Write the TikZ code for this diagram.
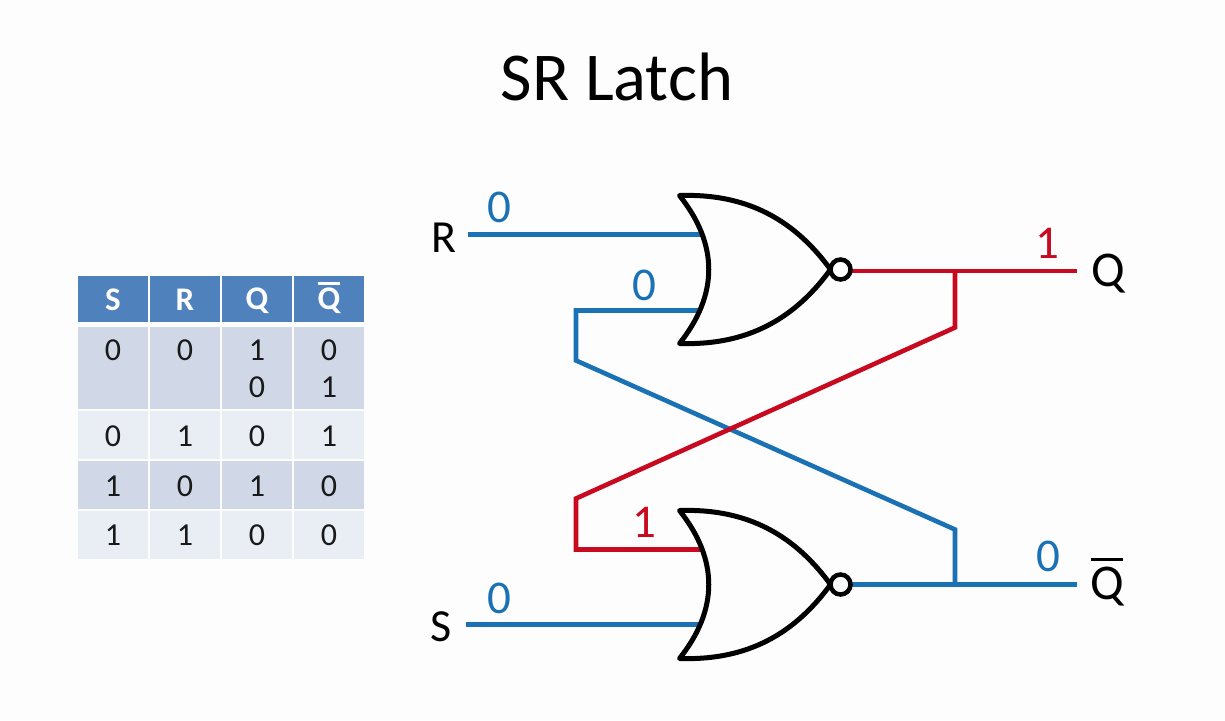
\documentclass[tikz,border=0pt]{standalone}
\usepackage{fontspec}
\setmainfont{Carlito}
\definecolor{wireblue}{HTML}{1A72B4}
\definecolor{wirered}{HTML}{C80A20}
\definecolor{headblue}{HTML}{4F81BD}
\definecolor{rowdark}{HTML}{D0D8E8}
\definecolor{rowlight}{HTML}{E9EDF4}
\definecolor{pagebg}{HTML}{FDFDFD}
\newcommand{\barred}[3]{\vbox{\hrule height #1\kern #2\hbox{#3}}}
\tikzset{
  blueW/.style={draw=wireblue,line width=4.6pt,miter limit=10},
  redW/.style={draw=wirered,line width=4.6pt,miter limit=10},
  sig/.style={font=\fontsize{47}{47}\selectfont,inner sep=0pt},
  lab/.style={font=\fontsize{46}{46}\selectfont,inner sep=0pt,text=black},
  qlab/.style={font=\fontsize{50}{50}\selectfont,inner sep=0pt,text=black},
  num/.style={font=\fontsize{32}{32}\selectfont,inner sep=0pt,text=black!90},
  hd/.style={font=\fontsize{33}{33}\selectfont\bfseries,inner sep=0pt,text=white},
  headcell/.style={fill=headblue,draw=none},
  darkcell/.style={fill=rowdark,draw=none},
  lightcell/.style={fill=rowlight,draw=none},
  norgate/.pic={
    \draw[line width=5pt,line join=round,black]
      (-151,-74) .. controls (-90,-76) and (-40,-55) .. (0,0)
      .. controls (-40,55) and (-90,76) .. (-151,74)
      .. controls (-112,25) and (-112,-25) .. cycle;
    \draw[line width=4.5pt,black] (10,0) circle (10);
  }
}
\begin{document}
\begin{tikzpicture}[x=1pt,y=-1pt]
\useasboundingbox[fill=pagebg] (0,0) rectangle (1225,720);
\node[font=\fontsize{68.5}{68.5}\selectfont,inner sep=0pt] (title) at (617,77) {SR Latch};

% table cells
\foreach \xa/\xb/\c in {78/148/a,150/220/b,222/292/c,294/364/d}{
  \path[headcell] (\xa,276) rectangle (\xb,322);
  \path[darkcell] (\xa,327) rectangle (\xb,409);
  \path[lightcell] (\xa,411) rectangle (\xb,459);
  \path[darkcell] (\xa,461) rectangle (\xb,509);
  \path[lightcell] (\xa,511) rectangle (\xb,559);
}
\node[hd] (hS) at (113,300) {S};
\node[hd] (hR) at (185,300) {R};
\node[hd] (hQ) at (257,301) {Q};
\node[hd] (hQb) at (329,298) {\barred{2.5pt}{3pt}{Q}};
\node[num] (a1) at (113,350) {0};
\node[num] (b1) at (185,350) {0};
\node[num] (c1) at (257,350) {1};
\node[num] (d1) at (329,350) {0};
\node[num] (c1b) at (257,387) {0};
\node[num] (d1b) at (329,387) {1};
\node[num] (a2) at (113,436) {0};
\node[num] (b2) at (185,436) {1};
\node[num] (c2) at (257,436) {0};
\node[num] (d2) at (329,436) {1};
\node[num] (a3) at (113,486) {1};
\node[num] (b3) at (185,486) {0};
\node[num] (c3) at (257,486) {1};
\node[num] (d3) at (329,486) {0};
\node[num] (a4) at (113,535) {1};
\node[num] (b4) at (185,535) {1};
\node[num] (c4) at (257,535) {0};
\node[num] (d4) at (329,535) {0};

% endpoints
\coordinate (Rend) at (468,234.5);
\coordinate (Send) at (466,624.5);
\coordinate (Qend) at (1077,271);
\coordinate (Qbend) at (1077,584.5);
\coordinate (gTop) at (830.5,269.5);
\coordinate (gBot) at (830.5,584.5);
\coordinate (in1top) at (701,234.5);
\coordinate (in2top) at (701,310.5);
\coordinate (in1bot) at (701,549.5);
\coordinate (in2bot) at (701,624.5);
\coordinate (outTop) at (851,271);
\coordinate (outBot) at (851,584.5);
\coordinate (jQ) at (955,271);
\coordinate (jQb) at (955,584.5);

% wires
\draw[blueW] (Rend) -- (in1top);
\draw[blueW] (Send) -- (in2bot);
\draw[blueW] (outBot) -- (Qbend);
\draw[redW] (outTop) -- (Qend);
\draw[blueW] (in2top) -- (576,310.5) -- (576,360.5) -- (955,529.5) -- (jQb);
\draw[redW] (jQ) -- (955,327.5) -- (576,498.5) -- (576,549.5) -- (in1bot);

% gates
\pic (g1) at (gTop) {norgate};
\pic (g2) at (gBot) {norgate};

% labels
\node[lab] (lR) at (444,238) {R};
\node[lab] (lS) at (441,627) {S};
\node[qlab] (lQ) at (1108,274) {Q};
\node[qlab] (lQb) at (1107,582) {\barred{3pt}{6pt}{\kern-1pt Q\kern-1pt}};
\node[sig,text=wireblue] (v1) at (499,207) {0};
\node[sig,text=wireblue] (v2) at (644,285) {0};
\node[sig,text=wirered] (v3) at (1047,243) {1};
\node[sig,text=wirered] (v4) at (644,522) {1};
\node[sig,text=wireblue] (v5) at (499,598) {0};
\node[sig,text=wireblue] (v6) at (1048,556) {0};
\end{tikzpicture}
\end{document}
